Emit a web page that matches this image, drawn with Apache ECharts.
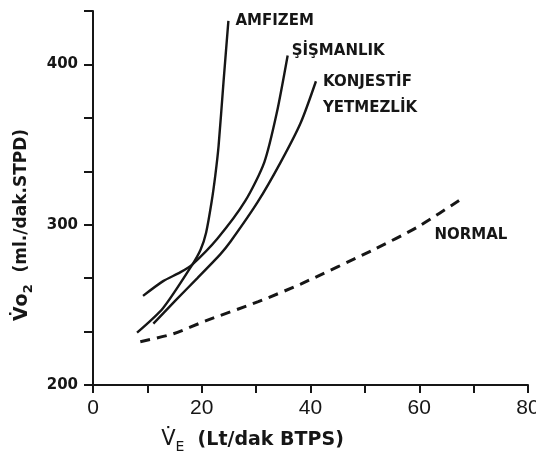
<!DOCTYPE html>
<html>
<head>
<meta charset="utf-8">
<script src="https://cdn.jsdelivr.net/npm/echarts@6/dist/echarts.min.js"></script>
<style>
  html, body { margin: 0; padding: 0; background: #ffffff; }
  #chart { width: 536px; height: 460px; }
</style>
</head>
<body>
<div id="chart"></div>
<script>
// V̇E (Lt/dak BTPS) and V̇O2 (ml/dak STPD)
const amfizemVE = [8.1, 12.9, 18.3, 19.8, 20.8, 21.8, 22.5, 23.1, 24.0, 24.9];
const amfizemVO2 = [232.7, 248.1, 275.3, 284.5, 295, 314, 331, 349.4, 389, 427.2];

const sismanlikVE = [9.2, 12.9, 16.1, 18.3, 22.9, 28.0, 31.5, 33.8, 35.8];
const sismanlikVO2 = [255.6, 264.8, 270.4, 275.3, 291.4, 314.8, 338.9, 369.8, 405.6];

const konjestifVE = [11.1, 15.1, 19.2, 23.4, 25.3, 30.3, 34.5, 38.2, 41.0];
const konjestifVO2 = [238.3, 252.5, 266.7, 281.5, 289.5, 314.2, 338.9, 363.6, 389.5];

const normalVE = [8.7, 14.8, 20.7, 30.4, 38.2, 51.7, 59.8, 68.3];
const normalVO2 = [227, 232, 240, 252, 263, 284.6, 298.8, 317.3];

const seriesNames = ['AMFIZEM', 'ŞİŞMANLIK', 'KONJESTİF\nYETMEZLİK', 'NORMAL'];
const xTickLabels = [0, 20, 40, 60, 80];
const yTickLabels = [200, 300, 400];

const ink = '#161616';
const labelFont = 'DejaVu Sans';

const toPairs = (xs, ys) => xs.map((x, i) => [x, ys[i]]);

const makeSeries = (name, xs, ys, dashed, labelOffset, labelDist) => ({
    name: name,
    type: 'line',
    smooth: 0.25,
    showSymbol: false,
    silent: true,
    data: toPairs(xs, ys),
    lineStyle: {
        color: ink,
        width: dashed ? 3 : 2.4,
        type: dashed ? [10, 7] : 'solid'
    },
    endLabel: {
        show: true,
        formatter: name,
        color: ink,
        fontFamily: labelFont,
        fontWeight: 'bold',
        fontSize: 15,
        lineHeight: 26,
        distance: labelDist,
        offset: labelOffset
    }
});

const chart = echarts.init(document.getElementById('chart'), null, { renderer: 'canvas' });

const option = {
    backgroundColor: '#ffffff',
    animation: false,
    grid: { left: 93, right: 8, top: 11, bottom: 75, containLabel: false, outerBoundsMode: 'none' },
    xAxis: {
        type: 'value',
        min: 0,
        max: 80,
        interval: 10,
        name: '{v|V\u0307}{s|E}{t|  (Lt/dak BTPS)}',
        nameLocation: 'middle',
        nameGap: 41,
        nameTextStyle: {
            padding: [0, 116, 0, 0],
            rich: {
                v: { fontFamily: labelFont, fontSize: 21, color: ink, lineHeight: 28, verticalAlign: 'middle' },
                s: { fontFamily: labelFont, fontSize: 14, color: ink, lineHeight: 28, verticalAlign: 'bottom' },
                t: { fontFamily: labelFont, fontSize: 19, fontWeight: 'bold', color: ink, lineHeight: 28 }
            }
        },
        axisLine: { lineStyle: { color: ink, width: 2 } },
        axisTick: { length: 8, lineStyle: { color: ink, width: 2 } },
        axisLabel: {
            margin: 13,
            color: ink,
            fontFamily: 'Liberation Sans',
            fontSize: 21,
            formatter: (v) => xTickLabels.includes(Math.round(v)) ? String(Math.round(v)) : ''
        },
        splitLine: { show: false }
    },
    yAxis: {
        type: 'value',
        min: 200,
        max: 200 + 700 / 3,
        interval: 100 / 3,
        name: '{v|V\u0307o}{s|2}{t|  (ml./dak.STPD)}',
        nameLocation: 'middle',
        nameGap: 58,
        nameTextStyle: {
            padding: [0, 54, 0, 0],
            rich: {
                v: { fontFamily: labelFont, fontSize: 19, fontWeight: 'bold', color: ink, lineHeight: 26, verticalAlign: 'middle' },
                s: { fontFamily: labelFont, fontSize: 13, fontWeight: 'bold', color: ink, lineHeight: 26, verticalAlign: 'bottom' },
                t: { fontFamily: labelFont, fontSize: 17, fontWeight: 'bold', color: ink, lineHeight: 26 }
            }
        },
        axisLine: { show: true, lineStyle: { color: ink, width: 2 } },
        axisTick: { show: true, length: 9, lineStyle: { color: ink, width: 2 } },
        axisLabel: {
            margin: 15,
            color: ink,
            fontFamily: labelFont,
            fontWeight: 'bold',
            fontSize: 15,
            formatter: (v) => {
                const r = Math.round(v);
                return yTickLabels.includes(r) && Math.abs(v - r) < 0.01 ? String(r) : '';
            }
        },
        splitLine: { show: false }
    },
    series: [
        makeSeries(seriesNames[0], amfizemVE, amfizemVO2, false, [0, 0], 7),
        makeSeries(seriesNames[1], sismanlikVE, sismanlikVO2, false, [0, -4], 4),
        makeSeries(seriesNames[2], konjestifVE, konjestifVO2, false, [0, 14], 7),
        makeSeries(seriesNames[3], normalVE, normalVO2, true, [-35, 38], 5)
    ]
};

chart.setOption(option);
</script>
</body>
</html>
